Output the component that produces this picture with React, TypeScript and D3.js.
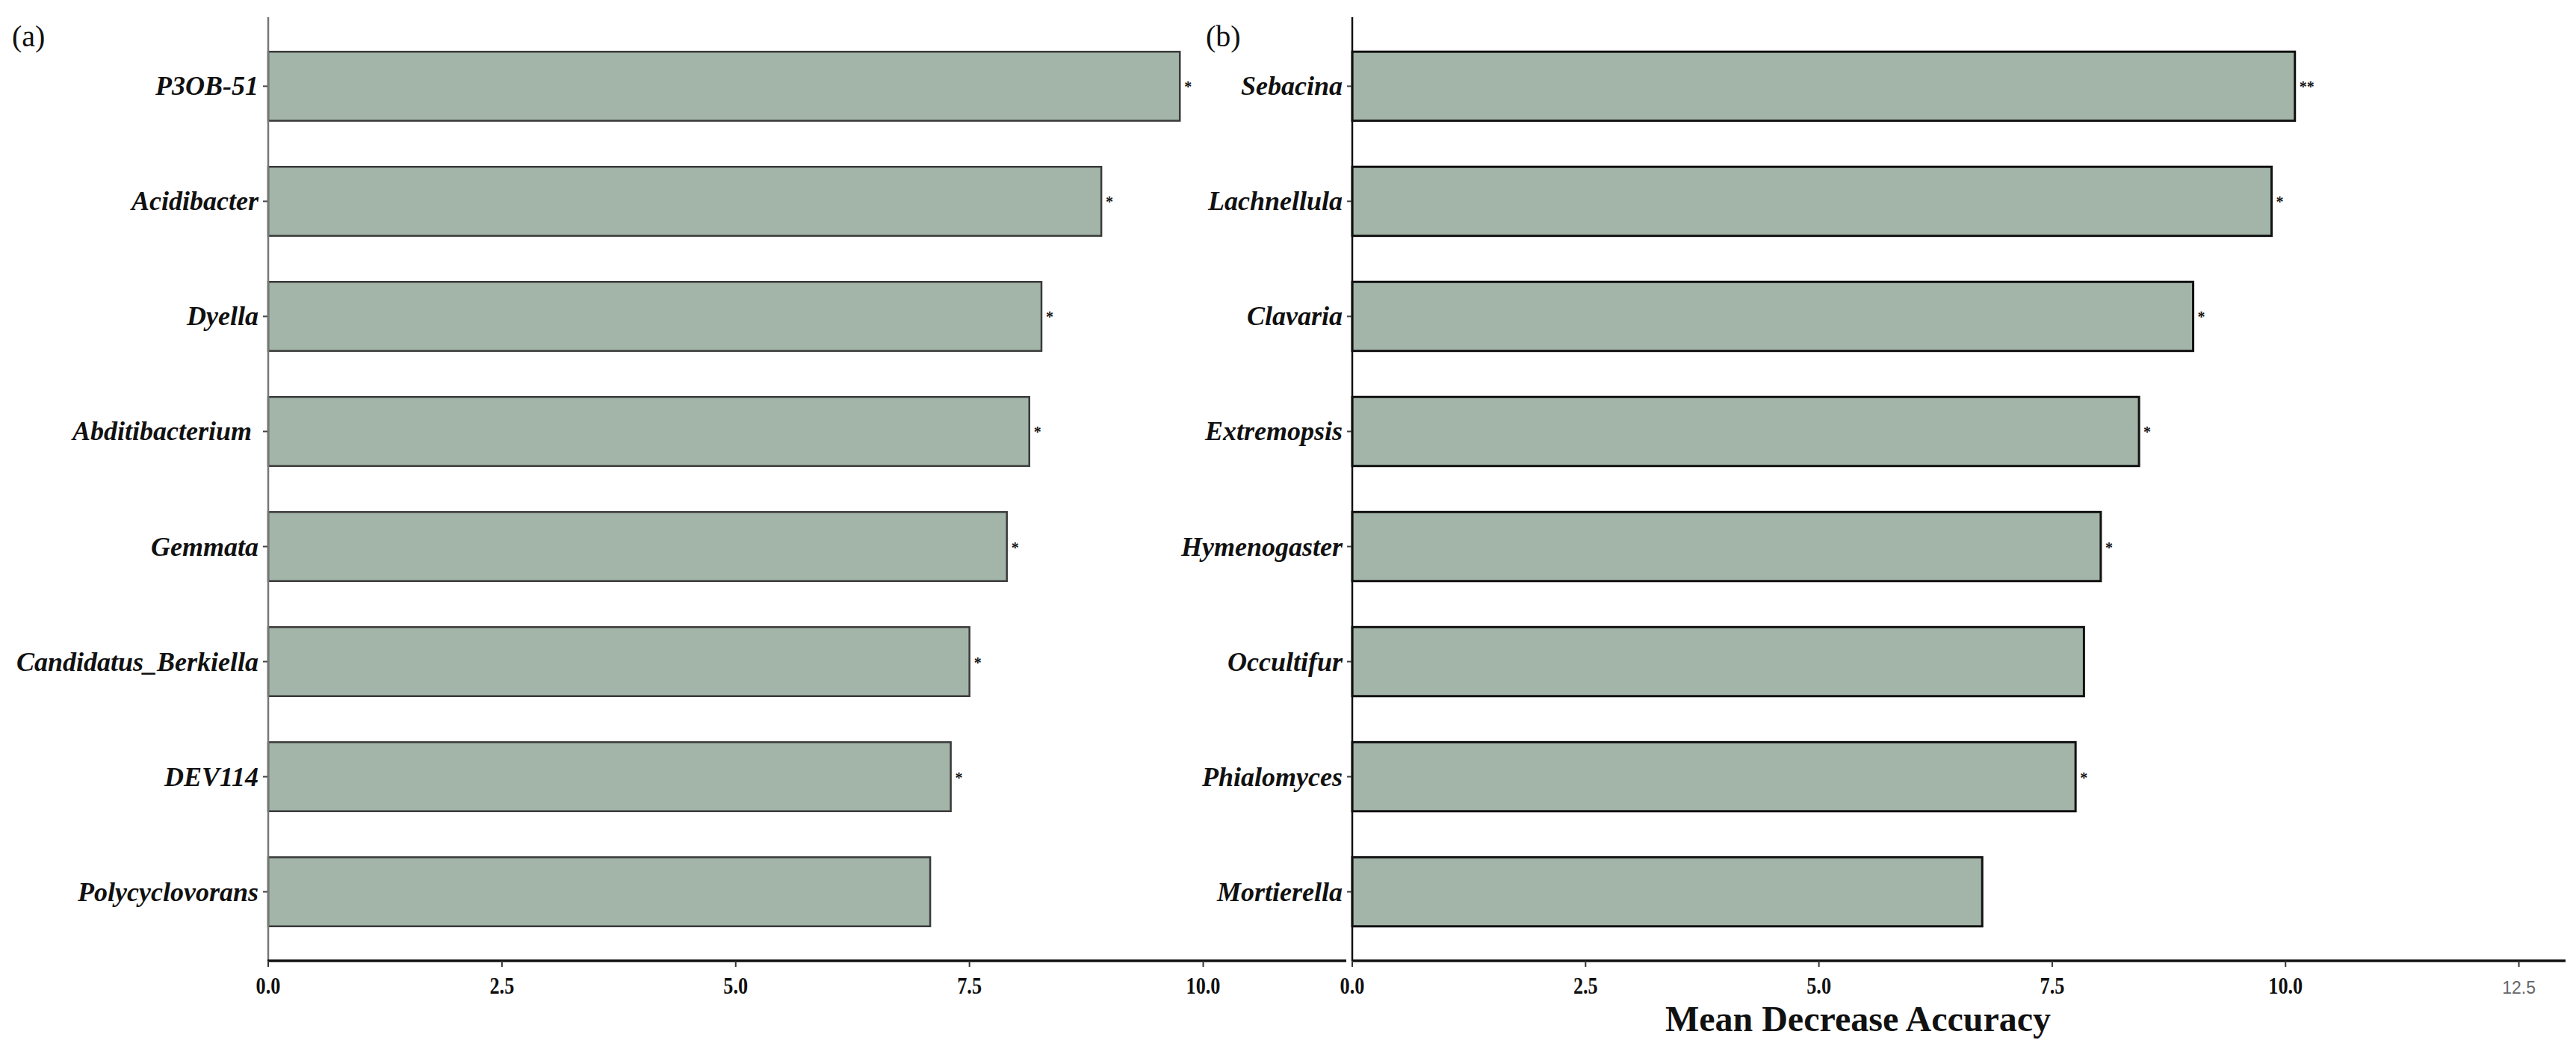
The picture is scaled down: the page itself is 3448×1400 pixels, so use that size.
import React from "react";
import * as d3 from "d3";

const genusA = ["P3OB-51", "Acidibacter", "Dyella", "Abditibacterium ", "Gemmata", "Candidatus_Berkiella", "DEV114", "Polycyclovorans"];
const valuesA = [9.75, 8.91, 8.27, 8.14, 7.9, 7.5, 7.3, 7.08];
const starsA = ["*", "*", "*", "*", "*", "*", "*", ""];

const genusB = ["Sebacina", "Lachnellula", "Clavaria", "Extremopsis", "Hymenogaster", "Occultifur", "Phialomyces", "Mortierella"];
const valuesB = [10.1, 9.85, 9.01, 8.43, 8.02, 7.84, 7.75, 6.75];
const starsB = ["**", "*", "*", "*", "*", "", "*", ""];

const ticksA = [0, 2.5, 5, 7.5, 10];
const ticksB = [0, 2.5, 5, 7.5, 10, 12.5];

const FILL = "#A2B5A8";
const SERIF = "'Liberation Serif', 'Times New Roman', serif";

type PanelProps = {
  labels: string[];
  values: number[];
  stars: string[];
  ticks: number[];
  x0: number;
  x1: number;
  maxV: number;
  tag: string;
  tagX: number;
  yAxisColor: string;
  barStroke: string;
  barStrokeW: number;
  grayLast?: boolean;
};

function Panel(p: PanelProps) {
  const top = 23;
  const bottom = 1286;
  const x = d3.scaleLinear().domain([0, p.maxV]).range([p.x0, p.x1]);
  const y = d3.scaleBand<string>().domain(p.labels).range([top, bottom]).paddingInner(0.4).paddingOuter(0.3);
  const bw = y.bandwidth();
  return (
    <g>
      <text x={p.tagX} y={62} fontFamily={SERIF} fontSize={40} fill="#111">{p.tag}</text>
      {p.labels.map((l, i) => {
        const yy = y(l)!;
        return (
          <g key={l}>
            <rect x={x(0)} y={yy} width={x(p.values[i]) - x(0)} height={bw} fill={FILL} stroke={p.barStroke} strokeWidth={p.barStrokeW} />
            {p.stars[i] && (
              <text x={x(p.values[i]) + 6} y={yy + bw / 2 + 8} fontFamily={SERIF} fontSize={20} fontWeight="bold" fill="#111">{p.stars[i]}</text>
            )}
            <line x1={x(0) - 7} x2={x(0)} y1={yy + bw / 2} y2={yy + bw / 2} stroke="#444" strokeWidth={2} />
            <text x={x(0) - 13} y={yy + bw / 2 + 12} textAnchor="end" fontFamily={SERIF} fontSize={36} fontStyle="italic" fontWeight="bold" fill="#111" style={{ whiteSpace: "pre" }}>{l}</text>
          </g>
        );
      })}
      <line x1={x(0)} x2={x(0)} y1={top} y2={bottom} stroke={p.yAxisColor} strokeWidth={2.5} />
      <line x1={x(0) - 1} x2={p.x1} y1={bottom} y2={bottom} stroke="#111" strokeWidth={3.5} />
      {p.ticks.map((t, i) => {
        const last = p.grayLast && i === p.ticks.length - 1;
        return (
          <g key={t}>
            <line x1={x(t)} x2={x(t)} y1={bottom} y2={bottom + 8} stroke="#333" strokeWidth={2} />
            <text transform={`translate(${x(t)},${bottom + 44}) scale(${last ? 1 : 0.82},1)`} textAnchor="middle" fontFamily={last ? "'Liberation Sans', Arial, sans-serif" : SERIF} fontSize={last ? 23 : 32} fontWeight={last ? "normal" : "bold"} fill={last ? "#666" : "#111"}>{d3.format(".1f")(t)}</text>
          </g>
        );
      })}
    </g>
  );
}

export default function App() {
  return (
    <svg width={3448} height={1400} style={{ position: "absolute", left: 0, top: 0, background: "#fff" }}>
      <rect width={3448} height={1400} fill="#fff" />
      <Panel labels={genusA} values={valuesA} stars={starsA} ticks={ticksA} x0={359} x1={1802} maxV={11.53} tag="(a)" tagX={16} yAxisColor="#777" barStroke="#3a3a3a" barStrokeW={2.5} />
      <Panel labels={genusB} values={valuesB} stars={starsB} ticks={ticksB} x0={1810} x1={3434} maxV={13} tag="(b)" tagX={1614} yAxisColor="#111" barStroke="#111" barStrokeW={3} grayLast />
      <text x={2487} y={1380} textAnchor="middle" fontFamily={SERIF} fontSize={48} fontWeight="bold" fill="#111">Mean Decrease Accuracy</text>
    </svg>
  );
}
